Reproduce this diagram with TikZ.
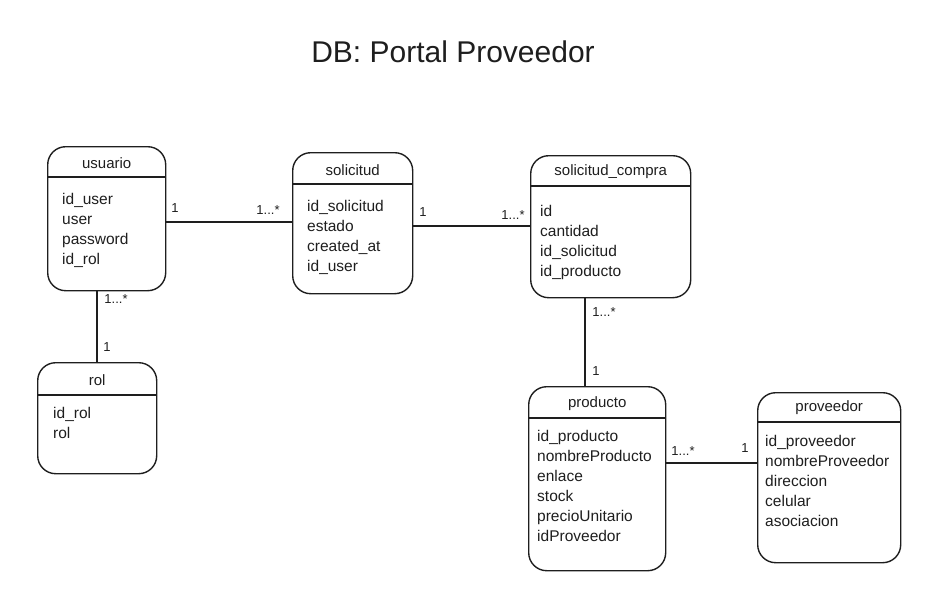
\documentclass[tikz,border=0pt]{standalone}
\usepackage{fontspec}
\setmainfont{Liberation Sans}
\usetikzlibrary{positioning}

\definecolor{ink}{HTML}{1E1E1E}

\tikzset{
  entity/.style={draw=ink, line width=1.4pt, rounded corners=18pt, anchor=north west},
  attr/.style={anchor=north west, align=left, inner sep=0pt, text=ink, font=\fontsize{15.5}{20}\selectfont},
  ttl/.style={inner sep=0pt, text=ink, font=\fontsize{15}{17}\selectfont},
  card/.style={inner sep=0pt, text=ink, font=\fontsize{13}{15}\selectfont},
  link/.style={draw=ink, line width=1.6pt}
}

\begin{document}
\begin{tikzpicture}[x=1pt, y=-1pt]
\useasboundingbox (0,0) rectangle (934,600);

\node[text=ink, font=\fontsize{30}{34}\selectfont] (title) at (453,52) {DB: Portal Proveedor};

% entities
\node[entity, minimum width=118pt, minimum height=144pt] (usuario) at (47,146) {};
\node[entity, minimum width=120pt, minimum height=141pt] (solicitud) at (292,152) {};
\node[entity, minimum width=160pt, minimum height=142pt] (compra) at (530,155) {};
\node[entity, minimum width=119pt, minimum height=111pt] (rol) at (37,362) {};
\node[entity, minimum width=137pt, minimum height=184pt] (producto) at (528,386) {};
\node[entity, minimum width=143pt, minimum height=170pt] (proveedor) at (757,392) {};

% header lines
\draw[link] (usuario.west |- 0,177) -- (usuario.east |- 0,177);
\draw[link] (solicitud.west |- 0,184) -- (solicitud.east |- 0,184);
\draw[link] (compra.west |- 0,186) -- (compra.east |- 0,186);
\draw[link] (rol.west |- 0,395) -- (rol.east |- 0,395);
\draw[link] (producto.west |- 0,418) -- (producto.east |- 0,418);
\draw[link] (proveedor.west |- 0,422) -- (proveedor.east |- 0,422);

% titles
\node[ttl] (usuario-t) at (usuario.north |- 0,163) {usuario};
\node[ttl] (solicitud-t) at (solicitud.north |- 0,170) {solicitud};
\node[ttl] (compra-t) at (compra.north |- 0,172) {solicitud\_compra};
\node[ttl] (rol-t) at (rol.north |- 0,380) {rol};
\node[ttl] (producto-t) at (producto.north |- 0,404) {producto};
\node[ttl] (proveedor-t) at (proveedor.north |- 0,408) {proveedor};

% attributes
\node[attr] (usuario-a) at (62,193) {id\_user\\user\\password\\id\_rol};
\node[attr] (solicitud-a) at (307,200) {id\_solicitud\\estado\\created\_at\\id\_user};
\node[attr] (compra-a) at (540,205) {id\\cantidad\\id\_solicitud\\id\_producto};
\node[attr] (rol-a) at (53,407) {id\_rol\\rol};
\node[attr] (producto-a) at (537,430) {id\_producto\\nombreProducto\\enlace\\stock\\precioUnitario\\idProveedor};
\node[attr] (proveedor-a) at (765,435) {id\_proveedor\\nombreProveedor\\direccion\\celular\\asociacion};

% relations
\draw[link] (usuario.east |- 0,222) -- (solicitud.west |- 0,222);
\draw[link] (solicitud.east |- 0,226) -- (compra.west |- 0,226);
\draw[link] (usuario.south -| 97,0) -- (rol.north -| 97,0);
\draw[link] (compra.south -| 585,0) -- (producto.north -| 585,0);
\draw[link] (producto.east |- 0,463) -- (proveedor.west |- 0,463);

\node[card] (c1) at (175,208) {1};
\node[card] (c2) at (268,210) {1...*};
\node[card] (c3) at (423,212) {1};
\node[card] (c4) at (513,215) {1...*};
\node[card] (c5) at (116,299) {1...*};
\node[card] (c6) at (107,347) {1};
\node[card] (c7) at (604,312) {1...*};
\node[card] (c8) at (596,371) {1};
\node[card] (c9) at (683,451) {1...*};
\node[card] (c10) at (745,448) {1};

\end{tikzpicture}
\end{document}
